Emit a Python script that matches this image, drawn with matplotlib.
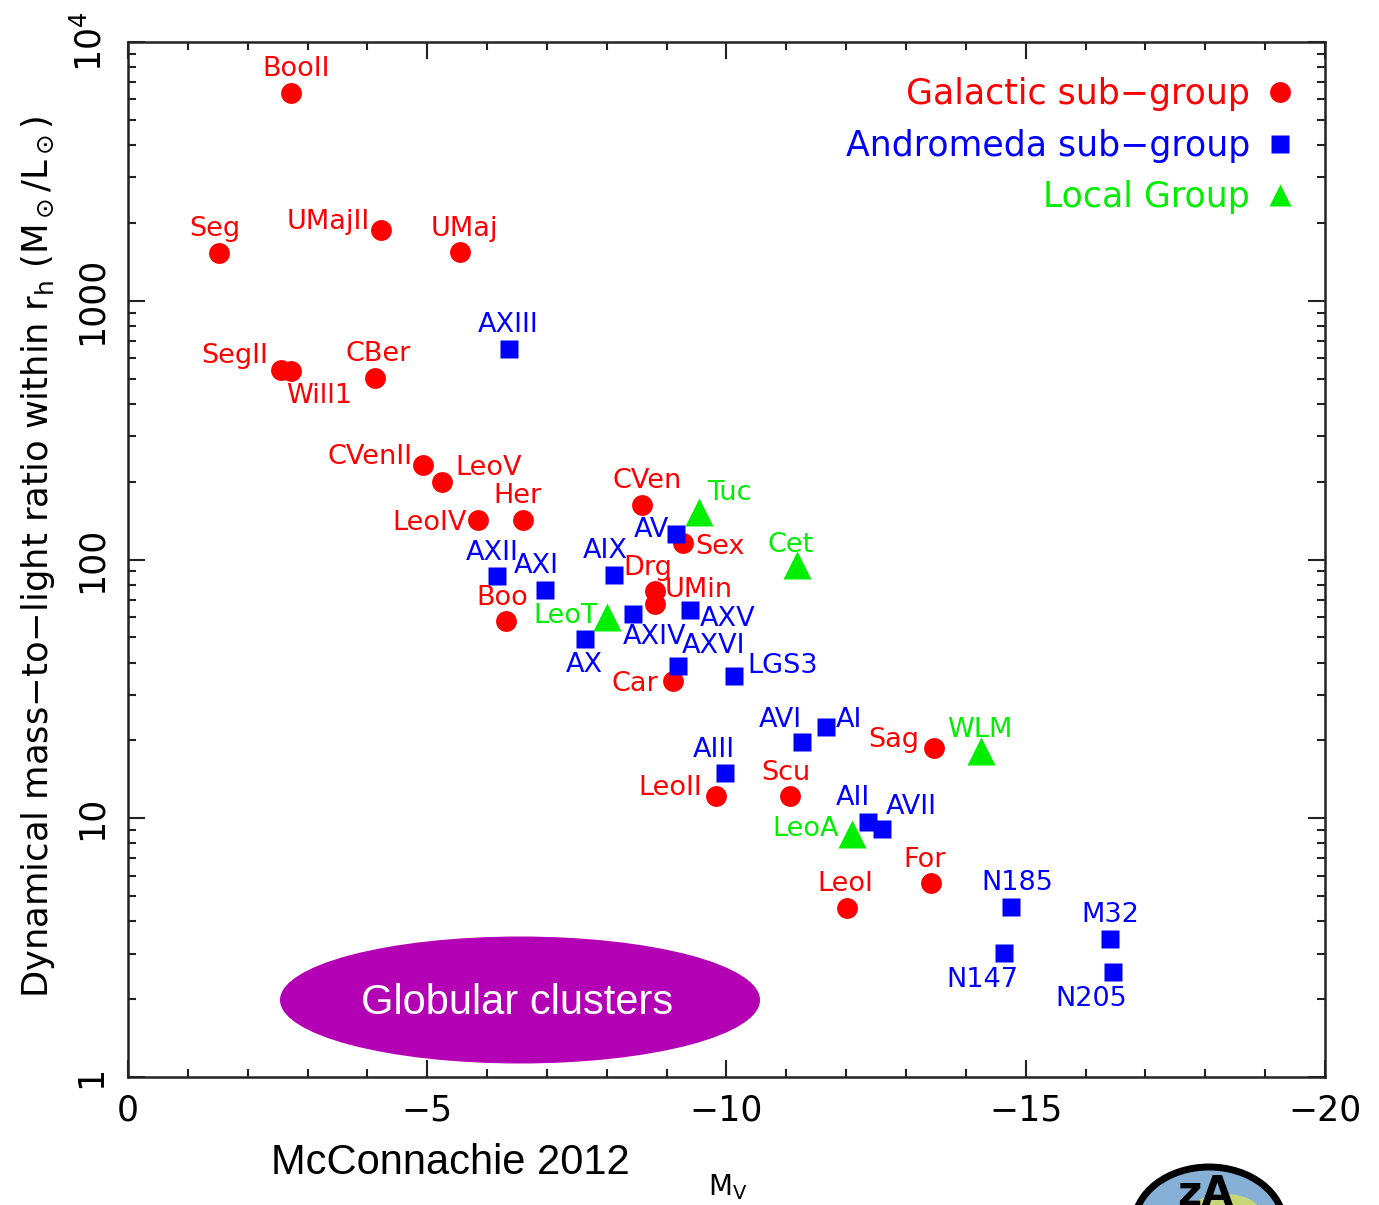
import numpy as np
import matplotlib
matplotlib.use('Agg')
import matplotlib.pyplot as plt
from matplotlib.patches import Ellipse
from matplotlib.ticker import NullFormatter


#
# Data
#
gal_names = ['BooII', 'Seg', 'UMajII', 'UMaj', 'SegII', 'Will1', 'CBer',
             'CVenII', 'LeoV', 'LeoIV', 'Her', 'CVen', 'Sex', 'Boo', 'Drg',
             'UMin', 'Car', 'LeoII', 'Scu', 'Sag', 'For', 'LeoI']
gal_mv = [-2.72, -1.52, -4.23, -5.55, -2.56, -2.72, -4.13,
          -4.93, -5.25, -5.85, -6.60, -8.59, -9.27, -6.32, -8.81,
          -8.81, -9.11, -9.82, -11.06, -13.47, -13.42, -12.01]
gal_ml = [6350, 1530, 1880, 1540, 540, 535, 503,
          232, 199, 142, 142, 162, 116, 57.8, 75.6,
          67.3, 33.9, 12.2, 12.2, 18.7, 5.62, 4.5]

and_names = ['AXIII', 'AV', 'AXII', 'AXI', 'AIX', 'AXIV', 'AXV', 'AX',
             'AXVI', 'LGS3', 'AVI', 'AI', 'AIII', 'AII', 'AVII',
             'N185', 'N147', 'M32', 'N205']
and_mv = [-6.37, -9.16, -6.17, -6.97, -8.12, -8.44, -9.39, -7.64,
          -9.19, -10.13, -11.26, -11.66, -9.97, -12.36, -12.60,
          -14.75, -14.64, -16.41, -16.46]
and_ml = [651, 125.5, 86.3, 76.2, 86.9, 61.5, 63.8, 49.3,
          38.8, 35.5, 19.7, 22.5, 15.0, 9.67, 9.09,
          4.54, 3.02, 3.42, 2.55]

lg_names = ['Tuc', 'Cet', 'LeoT', 'WLM', 'LeoA']
lg_mv = [-9.54, -11.18, -8.00, -14.25, -12.10]
lg_ml = [152.6, 95.3, 59.9, 18.2, 8.7]

x_ticks = [0, -5, -10, -15, -20]
x_ticklabels = ['0', '\u22125', '\u221210', '\u221215', '\u221220']
y_ticks = [1, 10, 100, 1000, 1e4]
y_ticklabels = ['1', '10', '100', '1000', r'10$^4$']

# label offsets from marker centre, in pixels (right, up)
LABEL_OFFSET = {
    'BooII': (5, 24), 'Seg': (-4, 24), 'UMajII': (-53, 8), 'UMaj': (4, 23),
    'SegII': (-46, 14), 'Will1': (28, -25), 'CBer': (3, 24),
    'CVenII': (-53, 8), 'LeoV': (46, 14), 'LeoIV': (-49, -3), 'Her': (-5, 24),
    'CVen': (5, 24), 'Sex': (37, -4), 'Boo': (-4, 23), 'Drg': (-7, 23),
    'UMin': (43, 14), 'Car': (-38, -3), 'LeoII': (-45, 8), 'Scu': (-4, 23),
    'Sag': (-40, 8), 'For': (-7, 23), 'LeoI': (-1, 24),
    'AXIII': (-1, 24), 'AV': (-25, 4), 'AXII': (-5, 23), 'AXI': (-9, 24),
    'AIX': (-9, 24), 'AXIV': (21, -23), 'AXV': (38, -9), 'AX': (-1, -26),
    'AXVI': (36, 20), 'LGS3': (48, 10), 'AVI': (-22, 22), 'AI': (23, 7),
    'AIII': (-11, 23), 'AII': (-15, 24), 'AVII': (29, 22),
    'N185': (7, 24), 'N147': (-22, -27), 'M32': (0, 24), 'N205': (-22, -27),
    'Tuc': (30, 19), 'Cet': (-6, 20), 'LeoT': (-41, 1), 'WLM': (-1, 21),
    'LeoA': (-47, 5),
}

RED = '#ff0000'
BLUE = '#0000ff'
GREEN = '#00ee00'
LABEL_SIZE = 19.5

#
# Figure
#
fig = plt.figure(figsize=(13.79, 12.05), dpi=100)
ax = fig.add_axes([0.0928, 0.1062, 0.8680, 0.8589])
ax.set_yscale('log')
ax.set_xlim(0, -20)
ax.set_ylim(1, 1e4)

groups = [
    (gal_names, gal_mv, gal_ml, 'o', 15, RED, 'Galactic sub\u2212group'),
    (and_names, and_mv, and_ml, 's', 13, BLUE, 'Andromeda sub\u2212group'),
    (lg_names, lg_mv, lg_ml, '^', 20, GREEN, 'Local Group'),
]
handles = []
for names, mv, ml, mk, ms, col, lab in groups:
    h, = ax.plot(mv, ml, mk, ls='none', ms=ms, color=col, mec='none',
                 label=lab, zorder=3)
    handles.append(h)
    for n, x, y in zip(names, mv, ml):
        dx, dy = LABEL_OFFSET[n]
        ax.annotate(n, (x, y), xytext=(dx, dy), textcoords='offset pixels',
                    ha='center', va='center', color=col, fontsize=LABEL_SIZE,
                    zorder=4)

# ticks
ax.set_xticks(x_ticks)
ax.set_xticklabels(x_ticklabels)
ax.set_xticks(np.arange(0, -21, -1), minor=True)
ax.set_yticks(y_ticks)
ax.set_yticklabels(y_ticklabels)
ax.yaxis.set_minor_formatter(NullFormatter())
ax.tick_params(which='both', direction='in', top=True, right=True,
               width=1.5, color='#222222')
ax.tick_params(which='major', length=12)
ax.tick_params(which='minor', length=6)
ax.tick_params(axis='x', labelsize=25, pad=12)
ax.tick_params(axis='y', labelsize=25, pad=14, labelrotation=90)
for lbl in ax.get_yticklabels():
    lbl.set_va('center')
for s in ax.spines.values():
    s.set_linewidth(1.8)
    s.set_color('#222222')

# legend: small triangle marker like the reference
leg_handles = handles[:2] + [plt.Line2D([], [], marker='^', ls='none', ms=16,
                                         color=GREEN, mec='none',
                                         label='Local Group')]
leg = ax.legend(handles=leg_handles, loc='upper right', markerfirst=False,
                frameon=False, fontsize=25, handlelength=0.8,
                handletextpad=0.45, labelspacing=0.5, borderaxespad=0.5,
                bbox_to_anchor=(1.0, 0.996))
for t, h in zip(leg.get_texts(), leg_handles):
    t.set_color(h.get_color())

# axis titles
fig.text(38 / 1379, 1 - 557 / 1205,
         r'Dynamical mass$-$to$-$light ratio within r$_{\rm h}$ (M$_\odot$/L$_\odot$)',
         rotation=90, ha='center', va='center', fontsize=25.5)
fig.text(728 / 1379, 1 - 1187 / 1205, r'M$_{\rm V}$', ha='center',
         va='center', fontsize=20)

# overlay annotations
fig.add_artist(Ellipse((520 / 1379, 1 - 1000 / 1205), 480 / 1379, 127 / 1205,
                       transform=fig.transFigure, facecolor='#b400b4',
                       edgecolor='none', zorder=5))
fig.text(517 / 1379, 1 - 1003 / 1205, 'Globular clusters', color='white',
         family='Liberation Sans', fontsize=30, ha='center', va='center',
         zorder=6)
fig.text(450 / 1379, 1 - 1163 / 1205, 'McConnachie 2012', color='black',
         family='Liberation Sans', fontsize=30, ha='center', va='center')

# partial logo at the bottom right (cut by the figure edge, as in the source)
fig.add_artist(Ellipse((1209 / 1379, 1 - 1225 / 1205), 150 / 1379, 116 / 1205,
                       transform=fig.transFigure, facecolor='#86b0d6',
                       edgecolor='black', linewidth=5, zorder=5))
fig.add_artist(Ellipse((1225 / 1379, 1 - 1212 / 1205), 70 / 1379, 36 / 1205,
                       transform=fig.transFigure, facecolor='#d8e060',
                       edgecolor='none', alpha=0.8, zorder=5))
fig.text(1205 / 1379, 1 - 1215 / 1205, 'zA', color='black', fontweight='bold',
         fontsize=30, ha='center', va='bottom', zorder=6)

fig.savefig('out.png', dpi=100)
